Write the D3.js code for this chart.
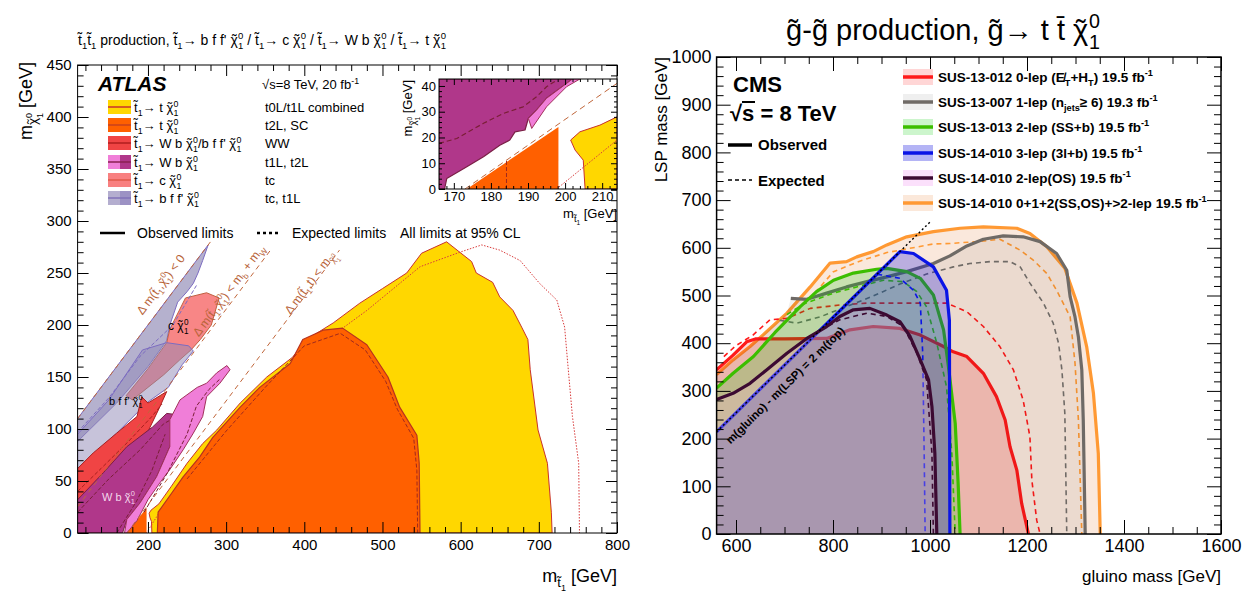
<!DOCTYPE html>
<html>
<head>
<meta charset="utf-8">
<script src="https://cdn.jsdelivr.net/npm/d3@7"></script>
<style>
  body { margin: 0; background: #fff; }
  svg text { font-family: "Liberation Sans", Arial, Helvetica, sans-serif; }
</style>
</head>
<body>
<svg id="chart" width="1258" height="593"></svg>
<script>
// ---------------- ATLAS stop summary (m_stop, m_LSP) contours ----------------
const atlasXTicks = [200, 300, 400, 500, 600, 700, 800];
const atlasYTicks = [0, 50, 100, 150, 200, 250, 300, 350, 400, 450];

// t0L/t1L combined (t -> t chi)
const yellowObs = [[205,0],[204.5,11],[202.5,15],[201.5,19],[204,22],[209,25],[214,28],[230,45],[250,67],[270,86],[288,99],[318,125],[352,150],[385,169],[403,186],[437,202],[471,221],[500,235],[531,250],[550,269],[582,280],[614,261],[620,250],[641,241],[650,227],[667,214],[678,198],[686,186],[689,157],[699,99],[711,67],[716,20],[717,0]];
const yellowExp = [[198,0],[214,19],[240,44],[270,76],[300,102],[340,131],[394,170],[440,192],[480,214],[548,256],[599,270],[627,277],[650,272],[676,262],[701,240],[723,224],[733,198],[737,163],[743,112],[751,67],[752,0]];
// t2L, SC
const orangeObs = [[212,0],[213,20],[230,38],[245,54],[266,73],[283,92],[318,121],[343,140],[382,163],[398,186],[424,195],[449,197],[480,181],[507,150],[522,121],[544,94],[547,67],[548,0]];
const orangeTri = [[173,0],[198.2,24.1],[198.2,0]];
const orangeExp = [[250,52],[300,98],[350,140],[400,180],[446,192],[478,176],[504,146],[519,119],[540,91],[544,60],[545,0]];
// tc, t1L (b f f' chi), two overlapping areas
const grayA = [[110,110],[277,277],[270,262],[264,250],[258,240],[250,232],[238,222],[228,200],[224,185],[200,160],[160,125],[110,88]];
const grayB = [[110,62],[110,95],[150,128],[193,176],[224,183],[252,180],[258,175],[244,162],[226,140],[200,126],[160,96]];
const grayExp = [[110,97],[150,130],[190,170],[232,200],[262,238]];
// tc (c chi)
const salmonObs = [[224,183],[228,196],[248,226],[275,231],[291,226],[281,200],[267,186],[255,176],[240,166],[220,152],[200,140],[180,128],[172,132],[200,158]];
// WW
const redObs = [[110,62],[130,77],[160,96],[186,112],[192,131],[200,125],[224,136],[215,121],[199,96],[173,70],[139,44],[110,18]];
const redExp = [[110,40],[140,62],[175,88],[205,112],[218,124]];
// t1L, t2L (W b chi)
const magentaObs = [[110,0],[110,32],[143,58],[173,83],[206,102],[224,115],[235,114],[237,109],[228,83],[211,54],[190,29],[173,13],[167.5,0]];
const magentaExp1 = [[110,20],[150,52],[190,80],[220,105],[232,110]];
const magentaExp2 = [[160,0],[185,30],[205,60],[222,95]];
const pinkObs = [[170,0],[173,0],[186,12],[200,32],[215,48],[228,61],[245,80],[258,96],[270,112],[275,131],[292,144],[305,157],[301,161],[288,154],[275,144],[263,140],[241,128],[228,109],[228,83],[211,54],[190,29],[173,13]];
const pinkExp = [[195,20],[225,58],[250,95],[262,122],[278,138],[292,148]];
// kinematic boundaries: m_chi = m_stop - offset
const kinLines = [
  { from: 110, to: 280, offset: 0 },
  { from: 110, to: 358, offset: 84.8 },
  { from: 173, to: 445, offset: 173 }
];

// zoomed region near m_stop ~ m_top
const insetXTicks = [170, 180, 190, 200, 210];
const insetYTicks = [0, 10, 20, 30, 40];
const insetMagenta = [[166,0],[167.5,0],[168.1,4.1],[173.5,8.6],[178,12.5],[182.4,17],[185.1,19],[186.5,22.2],[189.2,22.9],[190.1,27.4],[192.3,30.6],[195,35.2],[199.5,40],[202,42.7],[166,42.7]];
const insetPink = [[190.1,27.4],[191,23.5],[195,31.9],[200.4,39.7],[204,42.7],[202,42.7],[199.5,40],[195,35.2],[192.3,30.6]];
const insetMagentaExp = [[166,17.7],[170.8,19.6],[178,25.5],[183.3,29.3],[188.7,31.9],[192.3,35.8],[195,39.7],[197.7,42.2]];
const insetOrange = [[173.5,0],[198.2,24.1],[198.2,0]];
const insetOrangeExp = [[184.2,0],[184.2,11]];
const insetYellow = [[205.4,0],[204.9,11.2],[202.7,15.1],[201.5,19],[204,22.2],[209.4,24.8],[214,28],[214,0]];
const insetYellowExp = [[197.7,0],[214,19]];
const insetDiag = [[173,0],[216,43]];

// ---------------- CMS gluino -> t tbar chi summary ----------------
const cmsXTicks = [600, 800, 1000, 1200, 1400, 1600];
const cmsYTicks = [0, 100, 200, 300, 400, 500, 600, 700, 800, 900, 1000];

const sus13012Obs = [[560,344],[594,375],[622,403],[640,409],[700,409],[787,410],[835,428],[883,435],[938,431],[980,417],[1028,393],[1048,382],[1076,372],[1110,337],[1137,288],[1155,239],[1165,183],[1179,134],[1189,64],[1203,0]];
const sus13012Exp = [[575,372],[600,395],[635,417],[670,449],[705,452],[753,473],[814,480],[870,484],[925,484],[980,484],[1035,484],[1076,466],[1110,435],[1144,393],[1172,344],[1192,281],[1206,204],[1210,113],[1220,29],[1227,0]];
const sus13007Obs = [[713,494],[746,492],[787,505],[828,518],[870,529],[911,539],[952,550],[1007,567],[1041,583],[1076,604],[1110,618],[1151,625],[1192,623],[1227,613],[1261,588],[1282,553],[1289,497],[1299,455],[1306,413],[1313,344],[1316,239],[1320,0]];
const sus13007Exp = [[690,448],[725,442],[773,455],[821,474],[883,499],[938,524],[993,545],[1048,560],[1082,567],[1124,571],[1165,571],[1186,560],[1206,526],[1234,484],[1254,442],[1265,400],[1272,344],[1278,253],[1282,0]];
const sus13013Obs = [[560,306],[594,337],[636,372],[680,422],[732,476],[766,508],[801,532],[842,547],[890,555],[911,557],[952,550],[980,536],[1007,501],[1028,428],[1038,351],[1052,232],[1058,106],[1062,0]];
const sus13013Exp = [[705,460],[739,482],[801,505],[849,518],[904,532],[945,529],[973,508],[993,476],[1014,400],[1034,309],[1045,169],[1052,0]];
const sus14010_3lObs = [[560,214],[938,592],[966,588],[1007,560],[1034,511],[1040,448],[1041,0]];
const sus14010_3lExp = [[560,214],[890,544],[901,543],[938,536],[966,511],[980,484],[985,379],[988,169],[990,0]];
const sus14010_OSObs = [[560,282],[594,295],[629,316],[663,344],[705,379],[746,410],[787,435],[814,456],[842,470],[876,473],[911,459],[938,445],[959,414],[980,365],[997,323],[1004,267],[1010,169],[1014,0]];
const sus14010_OSExp = [[790,436],[814,449],[870,463],[911,456],[945,435],[973,379],[993,323],[1004,169],[1007,0]];
const sus14010_combObs = [[560,334],[594,365],[629,393],[663,424],[705,463],[753,518],[794,568],[828,571],[849,581],[883,592],[911,606],[952,623],[1007,634],[1062,641],[1110,644],[1179,641],[1206,630],[1241,602],[1278,557],[1303,484],[1323,393],[1337,295],[1347,169],[1351,0]];
const sus14010_combExp = [[722,468],[753,494],[801,550],[855,572],[911,590],[1007,608],[1041,609],[1096,613],[1144,618],[1186,595],[1213,574],[1241,546],[1261,511],[1289,455],[1299,358],[1306,239],[1313,0]];
const kinDiag = [[560,214],[1000,654]];

const cmsLegend = [
  { id: "SUS-13-012 0-lep ", extra: "met", lumi: "19.5", line: "#ff1a1a", fill: "rgba(255,0,0,0.16)", patch: "#ffd6d6" },
  { id: "SUS-13-007 1-lep ", extra: "njets", lumi: "19.3", line: "#6f6a66", fill: "rgba(0,0,0,0.06)", patch: "#efefef" },
  { id: "SUS-13-013 2-lep (SS+b) ", extra: "", lumi: "19.5", line: "#3cbe00", fill: "rgba(0,200,0,0.2)", patch: "#ccf5cc" },
  { id: "SUS-14-010 3-lep (3l+b) ", extra: "", lumi: "19.5", line: "#0a14e6", fill: "rgba(0,0,230,0.25)", patch: "#b4b4f5" },
  { id: "SUS-14-010 2-lep(OS) ", extra: "", lumi: "19.5", line: "#3c0a32", fill: "rgba(255,190,220,0.25)", patch: "#fbe0fb" },
  { id: "SUS-14-010 0+1+2(SS,OS)+>2-lep ", extra: "", lumi: "19.5", line: "#ff9933", fill: "rgba(230,140,80,0.2)", patch: "#fbe8da" }
];

// ------------------------------------------------------------------
const svg = d3.select("#chart");

// rich text: segments are strings or [text, level(em, +down), size factor, dx(em of segment)]
function rich(sel, segs) {
  const fs = +sel.attr("font-size");
  let off = 0;
  for (const s of segs) {
    const [txt, lvl, size, dx] = typeof s === "string" ? [s, 0, 1, 0] : [s[0], s[1] || 0, s[2] || 1, s[3] || 0];
    const target = lvl * fs;
    const t = sel.append("tspan").attr("dy", target - off).text(txt);
    if (size !== 1) t.attr("font-size", size * fs);
    if (dx) t.attr("dx", dx * size * fs);
    off = target;
  }
  return sel;
}
const sub = (t, dx) => [t, 0.3, 0.68, dx || 0];
const sup = (t, dx) => [t, -0.42, 0.68, dx || 0];
const CHI = ["χ", ["˜", 0, 1, -0.42], ["0", -0.42, 0.68, 0.16], ["1", 0.3, 0.68, -0.556]];
// chi as a subscript of m
const SUBCHI = [["χ", 0.3, 0.75], ["˜", 0.3, 0.75, -0.42], ["0", 0.02, 0.5, 0.12], ["1", 0.62, 0.5, -0.556]];
const T1 = ["t̃", sub("1")];

function addText(g, x, y, fs, segs, opts = {}) {
  const t = g.append("text").attr("x", x).attr("y", y).attr("font-size", fs)
    .attr("fill", opts.fill || "#000");
  if (opts.anchor) t.attr("text-anchor", opts.anchor);
  if (opts.weight) t.attr("font-weight", opts.weight);
  if (opts.style) t.attr("font-style", opts.style);
  if (opts.transform) t.attr("transform", opts.transform);
  rich(t, segs);
  return t;
}

function frameAxes(g, x, y, o) {
  const [y0, y1] = y.range();
  const [x0, x1] = x.range();
  const fmt = d3.format("d");
  const mk = (axis, tr, vals, size, labels) => {
    const a = g.append("g").attr("transform", tr)
      .call(axis.tickValues(vals).tickSize(size).tickPadding(o.pad).tickFormat(labels ? fmt : ""));
    a.select(".domain").remove();
    a.selectAll("line").attr("stroke", "#000").attr("stroke-width", 1);
    a.selectAll("text").attr("font-size", o.fs).attr("fill", "#000")
      .style("font-family", '"Liberation Sans", Arial, sans-serif');
    return a;
  };
  mk(d3.axisBottom(x), `translate(0,${y0})`, o.xMajor, -o.major, true);
  mk(d3.axisBottom(x), `translate(0,${y0})`, o.xMinor, -o.minor, false);
  mk(d3.axisTop(x), `translate(0,${y1})`, o.xMajor, -o.major, false);
  mk(d3.axisTop(x), `translate(0,${y1})`, o.xMinor, -o.minor, false);
  mk(d3.axisLeft(y), `translate(${x0},0)`, o.yMajor, -o.major, true);
  mk(d3.axisLeft(y), `translate(${x0},0)`, o.yMinor, -o.minor, false);
  mk(d3.axisRight(y), `translate(${x1},0)`, o.yMajor, -o.major, false);
  mk(d3.axisRight(y), `translate(${x1},0)`, o.yMinor, -o.minor, false);
  g.append("rect").attr("x", x0).attr("y", y1).attr("width", x1 - x0).attr("height", y0 - y1)
    .attr("fill", "none").attr("stroke", "#000").attr("stroke-width", o.frame || 1);
}

const area = (g, line, pts, fill, stroke, sw = 1, op = 1) =>
  g.append("path").attr("d", line(pts) + "Z").attr("fill", fill).attr("fill-opacity", op)
    .attr("stroke", stroke).attr("stroke-width", sw).attr("stroke-linejoin", "round");
const curve = (g, line, pts, stroke, sw, dash) =>
  g.append("path").attr("d", line(pts)).attr("fill", "none").attr("stroke", stroke)
    .attr("stroke-width", sw).attr("stroke-dasharray", dash || null).attr("stroke-linejoin", "round");

// ======================= left: ATLAS =======================
const xL = d3.scaleLinear().domain([110, 800]).range([77.6, 617]);
const yL = d3.scaleLinear().domain([0, 450]).range([533, 65]);
const lineL = d3.line().x(d => xL(d[0])).y(d => yL(d[1]));

const gL = svg.append("g");
svg.append("clipPath").attr("id", "clipL").append("rect")
  .attr("x", 77.6).attr("y", 65).attr("width", 617 - 77.6).attr("height", 533 - 65);
const pL = gL.append("g").attr("clip-path", "url(#clipL)");

area(pL, lineL, yellowObs, "#ffd700", "#c8322d", 1);
curve(pL, lineL, yellowExp, "#d83a3a", 1, "1.5,1.5");
area(pL, lineL, orangeObs, "#ff6000", "#b8321e", 1.2);
area(pL, lineL, orangeTri, "#ff6000", "none", 0);
curve(pL, lineL, orangeExp, "#a02a1e", 1, "4,2");
area(pL, lineL, grayA, "#a29dc2", "#7c6cc0", 1, 0.8);
area(pL, lineL, salmonObs, "#f88080", "#c06040", 1, 0.95);
area(pL, lineL, grayB, "#8f87b5", "#7c6cc0", 1, 0.5);
curve(pL, lineL, grayExp, "#7c6cc0", 1, "4,2");
area(pL, lineL, redObs, "#f04444", "#a8201e", 1);
curve(pL, lineL, redExp, "#a8201e", 1, "4,2");
area(pL, lineL, magentaObs, "#b0378a", "#7a1f45", 1);
curve(pL, lineL, magentaExp1, "#7a1f35", 1, "4,2");
curve(pL, lineL, magentaExp2, "#7a1f35", 1, "4,2");
area(pL, lineL, pinkObs, "#f07ed8", "#a0305a", 1);
curve(pL, lineL, pinkExp, "#7a1f35", 1, "4,2");

for (const k of kinLines) {
  curve(pL, lineL, [[k.from, k.from - k.offset], [k.to, k.to - k.offset]], "#c0663a", 1, "5,4");
}

// labels along the kinematic limits
const angL = -Math.atan2(yL(0) - yL(1), xL(1) - xL(0)) * 180 / Math.PI;
const kinCol = "#b8643a";
addText(pL, 0, 0, 12, ["Δ m(", "t̃", sub("1"), ",", ...CHI, ") < 0"],
  { fill: kinCol, anchor: "middle", transform: `translate(164,287) rotate(${angL})` });
addText(pL, 0, 0, 12, ["Δ m(", "t̃", sub("1"), ",", ...CHI, ") < m", sub("b"), " + m", sub("W")],
  { fill: kinCol, anchor: "middle", transform: `translate(232,293) rotate(${angL})` });
addText(pL, 0, 0, 12, ["Δ m(", "t̃", sub("1"), ",t) < m", ...SUBCHI],
  { fill: kinCol, anchor: "middle", transform: `translate(313,285) rotate(${angL})` });

addText(pL, 168, 330, 12, ["c ", ...CHI]);
addText(pL, 109, 405, 11, ["b f f' ", ...CHI]);
addText(pL, 102, 501, 11, ["W b ", ...CHI], { fill: "#f4d8ec" });

frameAxes(gL, xL, yL, {
  xMajor: atlasXTicks, xMinor: d3.range(120, 801, 20).filter(v => v % 100),
  yMajor: atlasYTicks, yMinor: d3.range(10, 450, 10).filter(v => v % 50),
  major: 11, minor: 6, pad: 6, fs: 15
});

// inset
const xI = d3.scaleLinear().domain([166, 214]).range([439, 617]);
const yI = d3.scaleLinear().domain([0, 42.7]).range([189, 79]);
const lineI = d3.line().x(d => xI(d[0])).y(d => yI(d[1]));
const gI = gL.append("g");
gI.append("rect").attr("x", 439).attr("y", 79).attr("width", 178).attr("height", 110).attr("fill", "#fff");
svg.append("clipPath").attr("id", "clipI").append("rect").attr("x", 439).attr("y", 79).attr("width", 178).attr("height", 110);
const pI = gI.append("g").attr("clip-path", "url(#clipI)");
area(pI, lineI, insetMagenta, "#b0378a", "#7a1f45", 1.2);
area(pI, lineI, insetPink, "#f07ed8", "#a0305a", 1);
curve(pI, lineI, insetMagentaExp, "#7a1f35", 1.2, "5,3");
area(pI, lineI, insetOrange, "#ff6000", "none", 0);
curve(pI, lineI, insetOrangeExp, "#a02a1e", 1, "4,2");
area(pI, lineI, insetYellow, "#ffd700", "#c8322d", 1);
curve(pI, lineI, insetYellowExp, "#d83a3a", 1, "1.5,1.5");
curve(pI, lineI, insetDiag, "#c0663a", 1, "6,4");
frameAxes(gI, xI, yI, {
  xMajor: insetXTicks, xMinor: d3.range(168, 214, 2).filter(v => v % 10),
  yMajor: insetYTicks, yMinor: d3.range(2, 42, 2).filter(v => v % 10),
  major: 6, minor: 3, pad: 3, fs: 13
});
addText(gI, 617, 218, 13, ["m", ["t̃", 0.3, 0.72], ["1", 0.5, 0.5], " [GeV]"], { anchor: "end" });
addText(gI, 0, 0, 13, ["m", ...SUBCHI, " [GeV]"], { anchor: "end", transform: "translate(412,80) rotate(-90)" });

// legend
const atlasLegend = [
  { lbl: [...T1, "→ t ", ...CHI], ana: "t0L/t1L combined", c1: "#ffd700", c2: "#ffd700", ln: "#c8322d" },
  { lbl: [...T1, "→ t ", ...CHI], ana: "t2L, SC", c1: "#ff6000", c2: "#ff6000", ln: "#c8401e" },
  { lbl: [...T1, "→ W b ", ...CHI, "/b f f' ", ...CHI], ana: "WW", c1: "#f04444", c2: "#f04444", ln: "#b01e1e" },
  { lbl: [...T1, "→ W b ", ...CHI], ana: "t1L, t2L", c1: "#f07ed8", c2: "#b0378a", ln: "#8a2050" },
  { lbl: [...T1, "→ c ", ...CHI], ana: "tc", c1: "#f88080", c2: "#f88080", ln: "#e05a4a" },
  { lbl: [...T1, "→ b f f' ", ...CHI], ana: "tc, t1L", c1: "#b4aecf", c2: "#9c92c4", ln: "#8070b8" }
];
const legRowY = [107, 125, 143, 162, 180, 198];
atlasLegend.forEach((e, i) => {
  const yy = legRowY[i];
  gL.append("rect").attr("x", 108).attr("y", yy - 7).attr("width", 12).attr("height", 14).attr("fill", e.c1);
  gL.append("rect").attr("x", 120).attr("y", yy - 7).attr("width", 11).attr("height", 14).attr("fill", e.c2);
  gL.append("line").attr("x1", 108).attr("x2", 131).attr("y1", yy).attr("y2", yy).attr("stroke", e.ln).attr("stroke-width", 1.5);
  addText(gL, 134, yy + 5, 13, e.lbl);
  addText(gL, 265, yy + 5, 13, [e.ana]);
});
addText(gL, 98, 91, 21, ["ATLAS"], { weight: "bold", style: "italic" });
addText(gL, 262, 89, 13, ["√s=8 TeV, 20 fb", sup("-1")]);
gL.append("line").attr("x1", 100).attr("x2", 125).attr("y1", 233).attr("y2", 233).attr("stroke", "#000").attr("stroke-width", 2.5);
addText(gL, 137, 238, 14, ["Observed limits"]);
gL.append("line").attr("x1", 257).attr("x2", 280).attr("y1", 233).attr("y2", 233).attr("stroke", "#000").attr("stroke-width", 2.5).attr("stroke-dasharray", "3,3");
addText(gL, 292, 238, 14, ["Expected limits"]);
addText(gL, 400, 238, 14, ["All limits at 95% CL"]);

addText(gL, 78, 45, 14, ["t̃", sub("1"), "t̃", sub("1"), " production, ", ...T1, "→ b f f' ", ...CHI,
  " / ", ...T1, "→ c ", ...CHI, " / ", ...T1, "→ W b ", ...CHI, " / ", ...T1, "→ t ", ...CHI]);
addText(gL, 617, 582, 18, ["m", ["t̃", 0.3, 0.72], ["1", 0.5, 0.5], " [GeV]"], { anchor: "end" });
addText(gL, 0, 0, 18, ["m", ...SUBCHI, " [GeV]"], { anchor: "end", transform: "translate(32,62) rotate(-90)" });

// ======================= right: CMS =======================
const xR = d3.scaleLinear().domain([560, 1600]).range([716.6, 1221]);
const yR = d3.scaleLinear().domain([0, 1000]).range([534, 57]);
const lineR = d3.line().x(d => xR(d[0])).y(d => yR(d[1]));
const gR = svg.append("g");
svg.append("clipPath").attr("id", "clipR").append("rect")
  .attr("x", 716.6).attr("y", 57).attr("width", 1221 - 716.6).attr("height", 534 - 57);
const pR = gR.append("g").attr("clip-path", "url(#clipR)");

const closeDown = pts => [...pts, [pts[pts.length - 1][0], 0], [560, 0], [560, pts[0][1]]];
// the 1-lep area joins the combined contour on its low-mass side
const grayClose = [...sus13007Obs, [1320, 0], [560, 0],
  ...sus14010_combObs.filter(p => p[0] < 713)];

const cmsSets = [
  { obs: sus14010_combObs, exp: sus14010_combExp, leg: cmsLegend[5], close: closeDown(sus14010_combObs) },
  { obs: sus13012Obs, exp: sus13012Exp, leg: cmsLegend[0], close: closeDown(sus13012Obs) },
  { obs: sus13007Obs, exp: sus13007Exp, leg: cmsLegend[1], close: grayClose },
  { obs: sus13013Obs, exp: sus13013Exp, leg: cmsLegend[2], close: closeDown(sus13013Obs) },
  { obs: sus14010_3lObs, exp: sus14010_3lExp, leg: cmsLegend[3], close: closeDown(sus14010_3lObs) },
  { obs: sus14010_OSObs, exp: sus14010_OSExp, leg: cmsLegend[4], close: closeDown(sus14010_OSObs) }
];
for (const s of cmsSets) {
  pR.append("path").attr("d", lineR(s.close) + "Z").attr("fill", s.leg.fill).attr("stroke", "none");
  curve(pR, lineR, s.exp, s.leg.line, 1.6, "5,4");
  curve(pR, lineR, s.obs, s.leg.line, 3.2);
}
curve(pR, lineR, kinDiag, "#000", 1.4, "2,2.5");

const angR = -Math.atan2(yR(0) - yR(1), xR(1) - xR(0)) * 180 / Math.PI;
addText(pR, 0, 0, 11.5, ["m(gluino) - m(LSP) = 2 m(top)"],
  { weight: "bold", anchor: "middle", transform: `translate(788,388) rotate(${angR})` });

frameAxes(gR, xR, yR, {
  xMajor: cmsXTicks, xMinor: d3.range(600, 1600, 50).filter(v => v % 200),
  yMajor: cmsYTicks, yMinor: d3.range(20, 1000, 20).filter(v => v % 100),
  major: 14, minor: 7, pad: 5, fs: 18, frame: 1.5
});

// legend
const cmsRowY = [77, 102, 127, 153, 178, 203];
cmsLegend.forEach((e, i) => {
  const yy = cmsRowY[i];
  gR.append("rect").attr("x", 903).attr("y", yy - 8).attr("width", 30).attr("height", 16).attr("fill", e.patch);
  gR.append("line").attr("x1", 903).attr("x2", 933).attr("y1", yy).attr("y2", yy).attr("stroke", e.line).attr("stroke-width", 3.5);
  let segs = [e.id];
  if (e.extra === "met") segs = [e.id + "(E̸", sub("T"), "+H", sub("T"), ") "];
  if (e.extra === "njets") segs = [e.id + "(n", sub("jets"), "≥ 6) "];
  segs.push(e.lumi + " fb", sup("-1"));
  addText(gR, 938, yy + 4.5, 13.5, segs, { weight: "bold" });
});
addText(gR, 733, 92, 22, ["CMS"], { weight: "bold" });
addText(gR, 730, 121, 22, ["√s = 8 TeV"], { weight: "bold" });
gR.append("line").attr("x1", 742).attr("x2", 755).attr("y1", 102).attr("y2", 102).attr("stroke", "#000").attr("stroke-width", 2);
gR.append("line").attr("x1", 728).attr("x2", 752).attr("y1", 145).attr("y2", 145).attr("stroke", "#000").attr("stroke-width", 3.5);
addText(gR, 758, 150, 15, ["Observed"], { weight: "bold" });
gR.append("line").attr("x1", 728).attr("x2", 752).attr("y1", 180).attr("y2", 180).attr("stroke", "#000").attr("stroke-width", 1.5).attr("stroke-dasharray", "4,3");
addText(gR, 758, 186, 15, ["Expected"], { weight: "bold" });

addText(gR, 943, 40, 29, ["g̃-g̃ production,  g̃→ t t̄ ", ...CHI], { anchor: "middle" });
addText(gR, 1221, 582, 17, ["gluino mass [GeV]"], { anchor: "end" });
addText(gR, 0, 0, 17, ["LSP mass [GeV]"], { anchor: "end", transform: "translate(667,57) rotate(-90)" });
</script>
</body>
</html>
